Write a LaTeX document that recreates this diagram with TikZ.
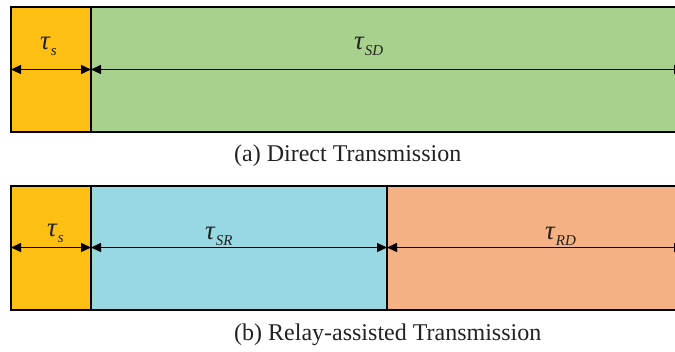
\documentclass[tikz,border=0pt]{standalone}
\usepackage{fontspec}
\setmainfont{Liberation Serif}
\usetikzlibrary{arrows.meta}
\definecolor{slotyellow}{HTML}{FCBF12}
\definecolor{slotgreen}{HTML}{A9D18E}
\definecolor{slotblue}{HTML}{97D8E3}
\definecolor{slotorange}{HTML}{F4B183}
\definecolor{captext}{HTML}{222222}
\tikzset{
  slot/.style={draw=black, line width=2pt},
  span/.style={line width=1.5pt, {Triangle[length=10pt,width=9pt]}-{Triangle[length=10pt,width=9pt]}},
  dur/.style={font=\fontsize{27}{30}\selectfont\itshape, inner sep=0pt, anchor=base west, text=captext},
  caption/.style={font=\fontsize{24}{28}\selectfont, inner sep=0pt, anchor=base west, text=captext}
}
% duration symbol with a lowered subscript
\newcommand{\durlabel}[1]{τ\kern1pt\raisebox{-6pt}{\fontsize{15}{17}\selectfont #1}}
\begin{document}
\begin{tikzpicture}[x=1pt,y=-1pt]
  \useasboundingbox (0,0) rectangle (675,352);
  \clip (0,0) rectangle (675,352);
  % (a) direct transmission frame
  \filldraw[slot, fill=slotyellow] (11,7) rectangle (91,132);
  \filldraw[slot, fill=slotgreen] (91,7) rectangle (690,132);
  \coordinate (a0) at (11,69.5);
  \coordinate (a1) at (91,69.5);
  \coordinate (a2) at (684,69.5);
  \draw[span] (a0) -- (a1);
  \draw[span] (a1) -- (a2);
  \node[dur] (ts1) at (40,50) {\durlabel{s}};
  \node[dur] (tsd) at (354,50) {\durlabel{SD}};
  \node[caption] (capa) at (234,162) {(a) Direct Transmission};
  % (b) relay-assisted transmission frame
  \filldraw[slot, fill=slotyellow] (11,186) rectangle (91,310);
  \filldraw[slot, fill=slotblue] (91,186) rectangle (387,310);
  \filldraw[slot, fill=slotorange] (387,186) rectangle (690,310);
  \coordinate (b0) at (11,247.5);
  \coordinate (b1) at (91,247.5);
  \coordinate (b2) at (387,247.5);
  \coordinate (b3) at (684,247.5);
  \draw[span] (b0) -- (b1);
  \draw[span] (b1) -- (b2);
  \draw[span] (b2) -- (b3);
  \node[dur] (ts2) at (47,237) {\durlabel{s}};
  \node[dur] (tsr) at (205,240) {\durlabel{SR}};
  \node[dur] (trd) at (545,240) {\durlabel{RD}};
  \node[caption] (capb) at (234,341) {(b) Relay-assisted Transmission};
\end{tikzpicture}
\end{document}
